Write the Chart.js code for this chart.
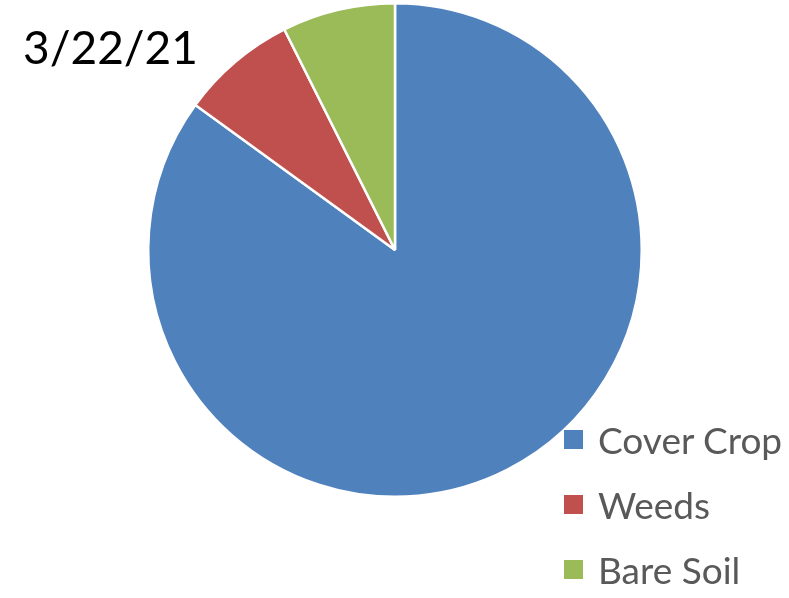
<!DOCTYPE html>
<html>
<head>
<meta charset="utf-8">
<script src="https://cdn.jsdelivr.net/npm/chart.js@4"></script>
<style>
    html, body { margin: 0; padding: 0; background: #fff; }
    #wrap { position: relative; width: 789px; height: 598px; overflow: hidden; }
    #pieChart { position: absolute; left: 0; top: 0; }
    #chart_title { position: absolute; left: 23px; top: 24px; font-family: Lato, sans-serif; font-size: 46px; line-height: 1; color: #000; white-space: nowrap; }
    #chart_legend { position: absolute; left: 564px; top: 407px; font-family: Lato, sans-serif; font-size: 37px; color: #595959; }
    .legend-row { display: flex; align-items: center; height: 65px; white-space: nowrap; }
    .legend-box { width: 19px; height: 19px; margin-right: 15px; }
</style>
</head>
<body>
<div id="wrap">
    <canvas id="pieChart" width="789" height="598"></canvas>
    <div id="chart_title"></div>
    <div id="chart_legend"></div>
</div>
<script>
// data (percent of ground cover)
const titleText = '3/22/21';
const categories = ['Cover Crop', 'Weeds', 'Bare Soil'];
const coverValues = [85, 7.6, 7.4];
const sliceColors = ['#4F81BD', '#C0504D', '#9BBB59'];

document.getElementById('chart_title').textContent = titleText;
buildLegend();
createPieChart();

function buildLegend() {
    const container = document.getElementById('chart_legend');
    categories.forEach((name, i) => {
        const row = document.createElement('div');
        row.className = 'legend-row';
        const box = document.createElement('span');
        box.className = 'legend-box';
        box.style.background = sliceColors[i];
        const label = document.createElement('span');
        label.textContent = name;
        row.appendChild(box);
        row.appendChild(label);
        container.appendChild(row);
    });
}

function createPieChart() {
    const ctx = document.getElementById('pieChart').getContext('2d');
    new Chart(ctx, {
        type: 'pie',
        data: {
            labels: categories,
            datasets: [{
                data: coverValues,
                backgroundColor: sliceColors,
                borderColor: '#ffffff',
                borderWidth: 2.5
            }]
        },
        options: {
            responsive: false,
            animation: false,
            layout: { padding: { left: 147, right: 146, top: 2, bottom: 100 } },
            plugins: {
                legend: { display: false },
                title: { display: false },
                tooltip: { enabled: false }
            }
        }
    });
}
</script>
</body>
</html>
